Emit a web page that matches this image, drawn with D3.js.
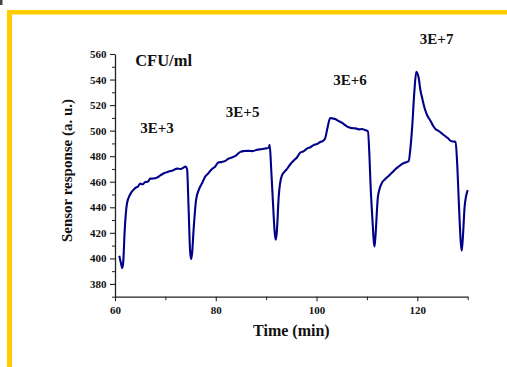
<!DOCTYPE html>
<html>
<head>
<meta charset="utf-8">
<script src="https://cdn.jsdelivr.net/npm/d3@7"></script>
<style>
  html, body { margin: 0; padding: 0; background: #fff; }
  svg { display: block; }
</style>
</head>
<body>
<svg id="chart" width="507" height="367"></svg>
<script>
// ---- data ----
const time = [60.85,61.2,61.45,61.65,61.9,62.4,63.0,64.0,64.6,65.0,65.5,66.0,66.5,67.0,67.6,68.3,69.0,69.7,70.3,71.0,71.6,72.3,73.0,73.6,74.0,
  74.3,74.6,74.9,75.1,75.3,75.6,76.1,76.8,77.3,77.9,78.5,79.2,79.8,80.5,81.2,81.9,82.5,83.2,84.0,84.9,85.6,86.5,87.3,88.2,89.0,89.8,90.5,90.7,
  91.0,91.4,91.7,91.9,92.1,92.5,93.1,94.1,94.8,95.4,96.1,96.8,97.5,98.1,98.8,99.4,100.1,100.8,101.3,101.7,102.2,102.7,103.2,103.7,104.4,105.1,
  105.8,106.4,107.0,107.7,108.4,109.0,109.6,110.2,110.5,110.7,111.1,111.35,111.5,111.65,112.2,113.0,113.6,114.3,115.0,115.7,116.3,117.0,117.6,
  118.3,118.6,119.0,119.4,119.8,120.3,120.6,121.0,121.5,122.0,122.6,123.1,123.6,124.1,124.6,125.1,125.6,126.1,126.6,127.1,127.6,127.9,
  128.3,128.6,128.8,129.0,129.4,130.0];
const response = [402,396,392.5,398,420,443.5,450,455,456.5,458.5,458,459.8,460,462.4,462.5,463.2,465,466.6,467.5,468.4,469,470.3,470,471,471.9,
  470,440,406,399.5,404,422.5,446,455.3,459,464,466.5,469.8,471.5,475,475.5,476.3,478,479,480.5,483.4,484,484.2,484,485,485.5,486,486.5,488.9,
  470,440,420,414.6,420,448.7,464.5,469.8,473.7,476.3,479,482.9,484,486,487,488.7,489.5,491.3,492,493.9,502.6,509.9,509.5,509.1,507.5,506,
  504,502.6,502,501.8,501,501.3,500.5,499.4,480,459.3,430,414,409.4,415,448.7,459.3,462,464.5,467.2,470,471.9,474,475,
  476.3,485,503.9,530,546,540.6,532,524.9,517,511.7,507.8,504,501.3,500,498.7,497,495.5,494,492,491.5,491.3,475,
  438.3,414,406,414,440.9,453.5];

const xTicks = [60, 80, 100, 120];
const xMinorTicks = [70, 90, 110, 130];
const yTicks = [380, 400, 420, 440, 460, 480, 500, 520, 540, 560];
const yMinorTicks = [370, 390, 410, 430, 450, 470, 490, 510, 530, 550];

const annotations = [
  { text: "CFU/ml", t: 64.0, v: 550.5, size: 16.5 },
  { text: "3E+3", t: 65.0, v: 498.5 },
  { text: "3E+5", t: 82.0, v: 510.5 },
  { text: "3E+6", t: 103.3, v: 536 },
  { text: "3E+7", t: 120.5, v: 567.5 }
];

const xTitle = "Time (min)";
const yTitle = "Sensor response (a. u.)";

// ---- drawing ----
const svg = d3.select("#chart");
const font = "'Liberation Serif', 'Times New Roman', serif";
const axisColor = "#222";

// yellow frame
svg.append("rect").attr("x", 7).attr("y", 10).attr("width", 500).attr("height", 4.5).attr("fill", "#FFCC00");
svg.append("rect").attr("x", 7).attr("y", 10).attr("width", 5).attr("height", 357).attr("fill", "#FFCC00");
svg.append("rect").attr("x", 0).attr("y", 0).attr("width", 2.5).attr("height", 5).attr("fill", "#444");

const x = d3.scaleLinear().domain([60, 130]).range([115, 467.7]);
const y = d3.scaleLinear().domain([370, 560]).range([296.7, 54]);

// minor ticks
const gMinX = svg.append("g").attr("transform", `translate(0,${y(370)})`)
  .call(d3.axisBottom(x).tickValues(xMinorTicks).tickSize(3.5).tickSizeOuter(0).tickFormat(""));
const gMinY = svg.append("g").attr("transform", `translate(${x(60)},0)`)
  .call(d3.axisLeft(y).tickValues(yMinorTicks).tickSize(3).tickSizeOuter(0).tickFormat(""));
[gMinX, gMinY].forEach(g => {
  g.select(".domain").remove();
  g.selectAll("line").attr("stroke", axisColor).attr("stroke-width", 1);
});

// major axes
const gx = svg.append("g").attr("transform", `translate(0,${y(370)})`)
  .call(d3.axisBottom(x).tickValues(xTicks).tickSize(4.5).tickSizeOuter(0).tickPadding(5));
const gy = svg.append("g").attr("transform", `translate(${x(60)},0)`)
  .call(d3.axisLeft(y).tickValues(yTicks).tickSize(5).tickSizeOuter(0).tickPadding(3.5));
[gx, gy].forEach(g => {
  g.select(".domain").attr("stroke", axisColor).attr("stroke-width", 1.3);
  g.selectAll(".tick line").attr("stroke", axisColor).attr("stroke-width", 1.1);
  g.selectAll(".tick text").attr("fill", "#111").style("font-family", font)
    .style("font-size", "11px").style("font-weight", "bold");
});

// data line
const line = d3.line().curve(d3.curveMonotoneX).x((d, i) => x(time[i])).y(d => y(d));
svg.append("path").datum(response)
  .attr("d", line)
  .attr("fill", "none")
  .attr("stroke", "#000088")
  .attr("stroke-width", 2.1)
  .attr("stroke-linejoin", "round");

// annotations
svg.selectAll("text.ann").data(annotations).enter().append("text")
  .attr("class", "ann")
  .attr("x", d => x(d.t))
  .attr("y", d => y(d.v))
  .attr("text-anchor", "start")
  .style("font-family", font)
  .style("font-weight", "bold")
  .style("font-size", d => (d.size || 15) + "px")
  .attr("fill", "#111")
  .text(d => d.text);

// axis titles
svg.append("text")
  .attr("x", (x(60) + x(130)) / 2).attr("y", 336)
  .attr("text-anchor", "middle")
  .style("font-family", font).style("font-weight", "bold").style("font-size", "16px")
  .attr("fill", "#111").text(xTitle);

svg.append("text")
  .attr("transform", "translate(72,170.5) rotate(-90)")
  .attr("text-anchor", "middle")
  .style("font-family", font).style("font-weight", "bold").style("font-size", "15px")
  .attr("fill", "#111").text(yTitle);
</script>
</body>
</html>
